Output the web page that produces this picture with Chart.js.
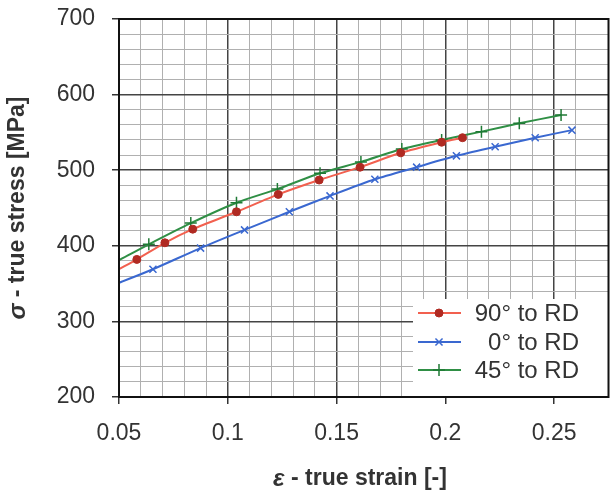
<!DOCTYPE html>
<html>
<head>
<meta charset="utf-8">
<script src="https://cdn.jsdelivr.net/npm/chart.js@4/dist/chart.umd.min.js"></script>
<style>
    html, body { margin: 0; padding: 0; background: #ffffff; }
    #wrap { width: 616px; height: 494px; }
</style>
</head>
<body>
<div id="wrap"><canvas id="chart" width="616" height="494"></canvas></div>
<script>
// values (strain, stress)
const strain90 = [0.05, 0.0582, 0.0711, 0.0839, 0.104, 0.1232, 0.142, 0.1608, 0.1795, 0.1983, 0.2079];
const stress90 = [369, 382, 404, 422, 445, 468, 487, 504, 523, 537, 543];

const strain0 = [0.05, 0.0656, 0.0875, 0.1077, 0.1283, 0.147, 0.1676, 0.1868, 0.2051, 0.2229, 0.2413, 0.2582];
const stress0 = [351, 369, 397, 421, 445, 466, 488, 504, 519, 531, 543, 553];

const strain45 = [0.05, 0.0637, 0.083, 0.104, 0.1228, 0.1424, 0.1612, 0.18, 0.1983, 0.2166, 0.234, 0.2532];
const stress45 = [381, 402, 430, 457, 475, 496, 511, 528, 540, 551, 562, 573];

const seriesLabels = ["90° to RD", "0° to RD", "45° to RD"];
const xTicks = [0.05, 0.1, 0.15, 0.2, 0.25];
const yTicks = [200, 300, 400, 500, 600, 700];

const FONT = "'Liberation Sans', Arial, sans-serif";

function toPoints(xs, ys) {
    return xs.map((x, i) => ({ x: x, y: ys[i] }));
}

function isMajor(value, list) {
    return list.some((t) => Math.abs(t - value) < 1e-6);
}

// first point of each curve sits on the left edge, no marker there
function markerRadius(r) {
    return (ctx) => ctx.dataIndex === 0 ? 0 : r;
}

const legendAndTitles = {
    id: "legendAndTitles",
    afterDraw(chart) {
        const ctx = chart.ctx;
        const area = chart.chartArea;
        ctx.save();

        // legend box in the lower right corner
        const bx = 413, by = 299;
        ctx.fillStyle = "#ffffff";
        ctx.fillRect(bx, by, area.right - bx, area.bottom - by);
        const rows = [313, 342, 370];
        chart.data.datasets.forEach((ds, i) => {
            const y = rows[i];
            ctx.strokeStyle = ds.borderColor;
            ctx.lineWidth = 2;
            ctx.beginPath();
            ctx.moveTo(418, y);
            ctx.lineTo(461, y);
            ctx.stroke();
            ctx.fillStyle = ds.pointBackgroundColor;
            ctx.strokeStyle = ds.pointBorderColor;
            ctx.lineWidth = ds.pointBorderWidth;
            Chart.helpers.drawPoint(ctx, {
                pointStyle: ds.pointStyle,
                radius: ds.legendRadius,
                rotation: 0,
                borderWidth: ds.pointBorderWidth
            }, 439, y);
            ctx.fillStyle = "#333333";
            ctx.font = "24px " + FONT;
            ctx.textAlign = "right";
            ctx.textBaseline = "middle";
            ctx.fillText(ds.label, 579, y + 1);
        });

        // plot frame
        ctx.strokeStyle = "#111111";
        ctx.lineWidth = 2;
        ctx.strokeRect(area.left, area.top, area.right - area.left, area.bottom - area.top);

        // axis titles with italic greek letters
        drawTitle(ctx, "σ", " - true stress [MPa]", 18, (area.top + area.bottom) / 2, -Math.PI / 2);
        drawTitle(ctx, "ε", " - true strain [-]", 360, 479, 0);
        ctx.restore();
    }
};

function drawTitle(ctx, greek, rest, cx, cy, angle) {
    const gFont = "italic bold 24px " + FONT;
    const rFont = "bold 23px " + FONT;
    ctx.save();
    ctx.translate(cx, cy);
    ctx.rotate(angle);
    ctx.font = gFont;
    const gw = ctx.measureText(greek).width;
    ctx.font = rFont;
    const rw = ctx.measureText(rest).width;
    const start = -(gw + rw) / 2;
    ctx.fillStyle = "#333333";
    ctx.textAlign = "left";
    ctx.textBaseline = "middle";
    ctx.font = gFont;
    ctx.fillText(greek, start, 0);
    ctx.font = rFont;
    ctx.fillText(rest, start + gw, 0);
    ctx.restore();
}

function gridColor(list) {
    return (c) => isMajor(c.tick.value, list) ? "#444444" : "#b0b0b0";
}

const chart = new Chart(document.getElementById("chart").getContext("2d"), {
    type: "scatter",
    data: {
        datasets: [{
            label: seriesLabels[0],
            data: toPoints(strain90, stress90),
            showLine: true,
            borderColor: "#f2604f",
            borderWidth: 2,
            tension: 0.25,
            pointStyle: "circle",
            pointRadius: markerRadius(4),
            legendRadius: 4,
            pointBackgroundColor: "#b02a22",
            pointBorderColor: "#b02a22",
            pointBorderWidth: 1
        }, {
            label: seriesLabels[1],
            data: toPoints(strain0, stress0),
            showLine: true,
            borderColor: "#3a68d0",
            borderWidth: 2,
            tension: 0.25,
            pointStyle: "crossRot",
            pointRadius: markerRadius(5),
            legendRadius: 5,
            pointBackgroundColor: "#3a68d0",
            pointBorderColor: "#3a68d0",
            pointBorderWidth: 1.5
        }, {
            label: seriesLabels[2],
            data: toPoints(strain45, stress45),
            showLine: true,
            borderColor: "#2f8f45",
            borderWidth: 2,
            tension: 0.25,
            pointStyle: "cross",
            pointRadius: markerRadius(6),
            legendRadius: 6,
            pointBackgroundColor: "#1f7a35",
            pointBorderColor: "#1f7a35",
            pointBorderWidth: 1.5
        }]
    },
    options: {
        responsive: false,
        animation: false,
        devicePixelRatio: 1,
        layout: { padding: { top: 19, right: 7, left: 0, bottom: 0 } },
        plugins: {
            legend: { display: false },
            tooltip: { enabled: false }
        },
        scales: {
            x: {
                type: "linear",
                min: 0.05,
                max: 0.275,
                afterFit: (scale) => {
                    scale.height = 97;
                    scale.paddingLeft = 0;
                    scale.paddingRight = 0;
                },
                border: { display: false },
                grid: {
                    color: gridColor(xTicks),
                    lineWidth: (c) => isMajor(c.tick.value, xTicks) ? 1.5 : 1,
                    tickColor: (c) => isMajor(c.tick.value, xTicks) ? "#333333" : "rgba(0,0,0,0)",
                    tickLength: 7
                },
                ticks: {
                    stepSize: 0.01,
                    autoSkip: false,
                    maxRotation: 0,
                    padding: 16,
                    color: "#333333",
                    font: { family: FONT, size: 23 },
                    callback: (v) => isMajor(v, xTicks) ? String(Math.round(v * 100) / 100) : ""
                }
            },
            y: {
                min: 200,
                max: 700,
                afterFit: (scale) => {
                    scale.width = 119;
                    scale.paddingTop = 0;
                    scale.paddingBottom = 0;
                },
                border: { display: false },
                grid: {
                    color: gridColor(yTicks),
                    lineWidth: (c) => isMajor(c.tick.value, yTicks) ? 1.5 : 1,
                    tickColor: (c) => isMajor(c.tick.value, yTicks) ? "#333333" : "rgba(0,0,0,0)",
                    tickLength: 7
                },
                ticks: {
                    stepSize: 20,
                    autoSkip: false,
                    padding: 17,
                    color: "#333333",
                    font: { family: FONT, size: 23 },
                    callback: (v) => isMajor(v, yTicks) ? String(v) : ""
                }
            }
        }
    },
    plugins: [legendAndTitles]
});
</script>
</body>
</html>
